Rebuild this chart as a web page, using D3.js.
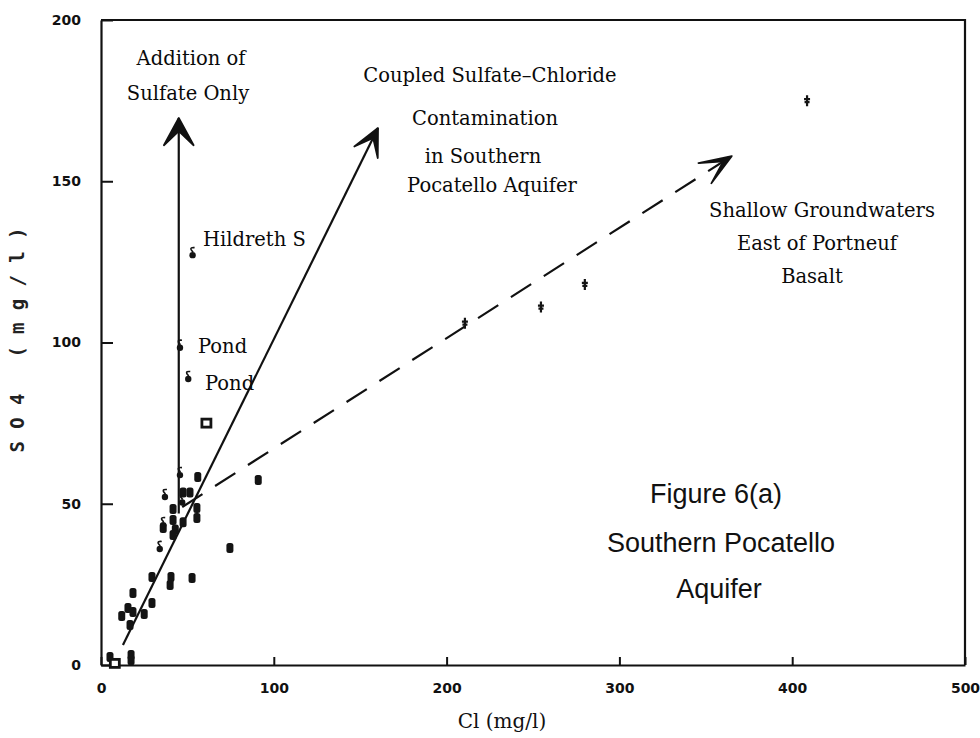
<!DOCTYPE html>
<html>
<head>
<meta charset="utf-8">
<script src="https://cdn.jsdelivr.net/npm/d3@7"></script>
<style>
  body { margin: 0; background: #fff; }
  svg { display: block; }
</style>
</head>
<body>
<script>
'use strict';

// axis ticks
const xTicks = [0, 100, 200, 300, 400, 500];
const yTicks = [0, 50, 100, 150, 200];

// Cl, SO4 pairs (mg/l)
const southernCl = [56, 91, 47.5, 51.5, 41.7, 55.5, 55.5, 41.7, 47.5, 43, 41.7, 74.6, 29.5, 40.5, 40, 52.7, 18.5, 29.5, 15.6, 18.5, 12, 25, 16.8, 17.4, 17.4, 5.2, 36];
const southernSO4 = [58.3, 57.4, 53.5, 53.5, 48.4, 48.7, 45.6, 45, 44.3, 42, 40.3, 36.3, 27.3, 27.3, 24.8, 27, 22.3, 19.2, 17.7, 16.4, 15.2, 15.8, 12.4, 3.1, 1.5, 2.5, 42.5];
const pondCl = [53, 45.7, 50.5, 45.7, 37, 36, 34, 47];
const pondSO4 = [127.7, 99, 89.3, 59.5, 52.7, 44, 36.6, 51];
const squareCl = [61, 8];
const squareSO4 = [75, 0.5];
const shallowCl = [210.6, 254.6, 280, 408.6];
const shallowSO4 = [106, 111, 118, 175];

// trend arrows: [Cl, SO4] start and end
const sulfateOnly = [[45, 47], [45, 169.6]];
const coupled = [[12.7, 6.2], [160.3, 166.5]];
const shallowTrend = [[47, 49], [365, 157.8]];

(function () {

    let svg = "";
    let x = null;
    let y = null;

    window.onload = function () {
        svg = d3.select('body')
            .append('svg')
            .attr('width', 980)
            .attr('height', 738);

        drawAxes();
        drawArrows();
        plotData();
        makeLabels();
    }

    // axes, inward ticks and the box round the plot
    function drawAxes() {
        x = d3.scaleLinear().domain([0, 500]).range([101, 965]);
        y = d3.scaleLinear().domain([0, 200]).range([665, 20]);

        let xAxis = d3.axisBottom(x).tickValues(xTicks)
            .tickSizeInner(-8).tickSizeOuter(0).tickPadding(18);
        let gx = svg.append('g')
            .attr('transform', 'translate(0, 665)')
            .call(xAxis);

        let yAxis = d3.axisLeft(y).tickValues(yTicks)
            .tickSizeInner(-12).tickSizeOuter(0).tickPadding(20);
        let gy = svg.append('g')
            .attr('transform', 'translate(101, 0)')
            .call(yAxis);

        [gx, gy].forEach(function (g) {
            g.select('.domain').attr('stroke', '#111').attr('stroke-width', 2.2);
            g.selectAll('.tick line').attr('stroke', '#111').attr('stroke-width', 2);
            g.selectAll('.tick text')
                .attr('fill', '#111')
                .style('font-family', '"DejaVu Sans", sans-serif')
                .style('font-weight', 'bold')
                .style('font-size', '14px');
        });

        // top and right edges of the frame
        svg.append('path')
            .attr('d', 'M' + x(0) + ',' + y(200) + 'H' + x(500) + 'V' + y(0))
            .attr('fill', 'none')
            .attr('stroke', '#111')
            .attr('stroke-width', 2.2);
    }

    // arrowhead at the end of a line, in pixel space
    function arrowHead(p0, p1, len, spread, back) {
        let dx = p1[0] - p0[0], dy = p1[1] - p0[1];
        let a = Math.atan2(dy, dx) + Math.PI;
        let l = [p1[0] + len * Math.cos(a - spread), p1[1] + len * Math.sin(a - spread)];
        let r = [p1[0] + len * Math.cos(a + spread), p1[1] + len * Math.sin(a + spread)];
        let m = [p1[0] + back * Math.cos(a), p1[1] + back * Math.sin(a)];
        return 'M' + l + 'L' + p1 + 'L' + r + 'L' + m + 'Z';
    }

    function drawArrows() {
        let toPx = (d) => [x(d[0]), y(d[1])];
        let arrows = [
            { pts: sulfateOnly, dash: null, len: 31, spread: 0.5, back: 13 },
            { pts: coupled, dash: null, len: 30, spread: 0.45, back: 11 },
            { pts: shallowTrend, dash: '24,15', len: 34, spread: 0.36, back: 10 }
        ];

        arrows.forEach(function (a) {
            let p = a.pts.map(toPx);
            svg.append('line')
                .attr('x1', p[0][0]).attr('y1', p[0][1])
                .attr('x2', p[1][0]).attr('y2', p[1][1])
                .attr('stroke', '#111')
                .attr('stroke-width', 2.2)
                .attr('stroke-dasharray', a.dash);

            svg.append('path')
                .attr('d', arrowHead(p[0], p[1], a.len, a.spread, a.back))
                .attr('fill', '#111')
                .attr('stroke', '#111')
                .attr('stroke-width', 1.8)
                .attr('stroke-linejoin', 'round');
        });
    }

    // the point markers
    function plotData() {
        let zip = (a, b) => a.map((v, i) => [v, b[i]]);

        // dark blobs
        svg.selectAll('.blob')
            .data(zip(southernCl, southernSO4))
            .enter()
            .append('rect')
            .attr('class', 'blob')
            .attr('x', (d) => x(d[0]) - 3.5)
            .attr('y', (d) => y(d[1]) - 5)
            .attr('width', 7)
            .attr('height', 10)
            .attr('rx', 2.5)
            .attr('fill', '#141414');

        // delta shaped marks (round body with a hooked top)
        let delta = svg.selectAll('.delta')
            .data(zip(pondCl, pondSO4))
            .enter()
            .append('g')
            .attr('class', 'delta')
            .attr('transform', (d) => 'translate(' + x(d[0]) + ',' + y(d[1]) + ')');
        delta.append('circle')
            .attr('cy', 2)
            .attr('r', 3.2)
            .attr('fill', '#141414');
        delta.append('path')
            .attr('d', 'M2,-5.5Q-2.5,-6 -1.5,-3.5L0.5,-1')
            .attr('fill', 'none')
            .attr('stroke', '#141414')
            .attr('stroke-width', 1.6);

        // squares
        svg.selectAll('.square')
            .data(zip(squareCl, squareSO4))
            .enter()
            .append('rect')
            .attr('class', 'square')
            .attr('x', (d) => x(d[0]) - 4.5)
            .attr('y', (d) => y(d[1]) - 4)
            .attr('width', 9)
            .attr('height', 8)
            .attr('fill', '#fff')
            .attr('stroke', '#141414')
            .attr('stroke-width', 2.8);

        // shallow groundwater crosses
        svg.selectAll('.cross')
            .data(zip(shallowCl, shallowSO4))
            .enter()
            .append('path')
            .attr('class', 'cross')
            .attr('d', (d) => {
                let px = x(d[0]), py = y(d[1]);
                return 'M' + px + ',' + (py - 5.5) + 'V' + (py + 5.5) +
                    'M' + (px - 3) + ',' + (py - 1.5) + 'H' + (px + 3) +
                    'M' + (px - 2.5) + ',' + (py + 1.5) + 'H' + (px + 2.5);
            })
            .attr('stroke', '#141414')
            .attr('stroke-width', 2.2);
    }

    // annotation text and axis titles
    function makeLabels() {
        let serif = '"DejaVu Serif", serif';
        let notes = [
            ['Addition of', 191, 65, 'middle'],
            ['Sulfate Only', 188, 100, 'middle'],
            ['Coupled Sulfate\u2013Chloride', 490, 82, 'middle'],
            ['Contamination', 485, 125, 'middle'],
            ['in Southern', 483, 163, 'middle'],
            ['Pocatello Aquifer', 492, 192, 'middle'],
            ['Hildreth S', 203, 246, 'start'],
            ['Pond', 198, 353, 'start'],
            ['Pond', 205, 390, 'start'],
            ['Shallow Groundwaters', 822, 217, 'middle'],
            ['East of Portneuf', 817, 250, 'middle'],
            ['Basalt', 812, 283, 'middle']
        ];

        svg.selectAll('.note')
            .data(notes)
            .enter()
            .append('text')
            .attr('class', 'note')
            .attr('x', (d) => d[1])
            .attr('y', (d) => d[2])
            .attr('text-anchor', (d) => d[3])
            .style('font-family', serif)
            .style('font-size', '19.5px')
            .attr('fill', '#0a0a0a')
            .text((d) => d[0]);

        let fig = [['Figure 6(a)', 716, 503], ['Southern Pocatello', 721, 552], ['Aquifer', 719, 598]];
        svg.selectAll('.fig')
            .data(fig)
            .enter()
            .append('text')
            .attr('class', 'fig')
            .attr('x', (d) => d[1])
            .attr('y', (d) => d[2])
            .attr('text-anchor', 'middle')
            .style('font-family', '"Liberation Sans", Arial, sans-serif')
            .style('font-size', '27px')
            .attr('fill', '#111')
            .text((d) => d[0]);

        svg.append('text')
            .attr('x', 502)
            .attr('y', 728)
            .attr('text-anchor', 'middle')
            .style('font-family', serif)
            .style('font-size', '20px')
            .attr('fill', '#111')
            .text('Cl (mg/l)');

        svg.append('text')
            .attr('transform', 'translate(24, 340)rotate(-90)')
            .attr('text-anchor', 'middle')
            .attr('textLength', 225)
            .attr('lengthAdjust', 'spacing')
            .style('font-family', '"DejaVu Sans Mono", monospace')
            .style('font-weight', 'bold')
            .style('font-size', '19px')
            .attr('fill', '#222')
            .text('SO4 (mg/l)');
    }

})();
</script>
</body>
</html>
